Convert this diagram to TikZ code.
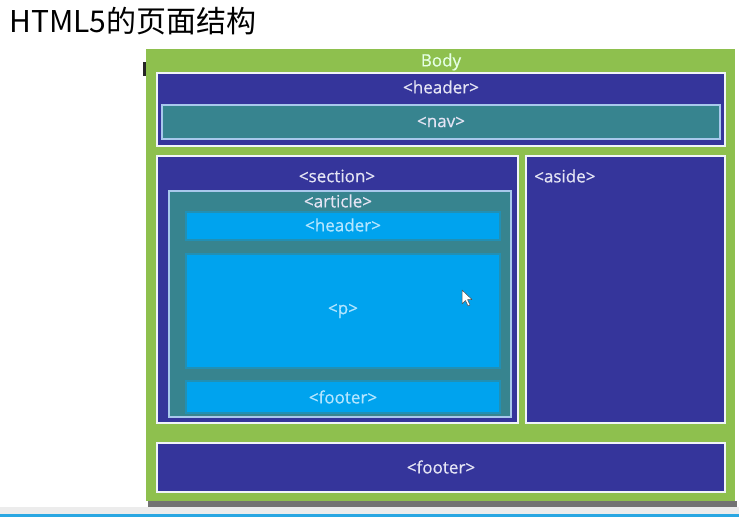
\documentclass[tikz,border=0pt]{standalone}
\usepackage{fontspec}
\setmainfont{Open Sans}
\newfontfamily\lblfont{Open Sans}[FakeBold=0.5]
\newfontfamily\cjk{Noto Sans CJK SC}
\definecolor{bodygreen}{HTML}{8EC04E}
\definecolor{darkblue}{HTML}{35359B}
\definecolor{tealbox}{HTML}{37848F}
\definecolor{skyblue}{HTML}{00A3EE}
\definecolor{paleline}{HTML}{A8C8EC}
\definecolor{whiteline}{HTML}{F0F4F8}
\definecolor{dbtext}{HTML}{E4E4F4}
\definecolor{sktext}{HTML}{B4E6FF}
\definecolor{bottomblue}{HTML}{2AA7E2}
\tikzset{
  x=1pt, y=-1pt,
  boxdark/.style={fill=darkblue, draw=whiteline, line width=2pt},
  boxteal/.style={fill=tealbox, draw=paleline, line width=1.6pt},
  boxsky/.style={fill=skyblue, draw=tealbox!60!skyblue, line width=1.2pt},
  lbl/.style={font=\lblfont\fontsize{17}{19}\selectfont, text=dbtext, inner sep=0pt},
  lblsky/.style={font=\lblfont\fontsize{17}{19}\selectfont, text=sktext, inner sep=0pt},
}
\begin{document}
\begin{tikzpicture}
\useasboundingbox (0,0) rectangle (739,519);
\fill[white] (0,0) rectangle (739,519);
% title
\node[anchor=west, inner sep=0pt, font=\fontsize{30}{33}\selectfont] (title) at (9,21) {\cjk HTML5的页面结构};
% bottom strip
\fill[gray!15] (0,507) rectangle (739,514);
\fill[bottomblue] (0,514) rectangle (739,517);
% shadow
\fill[black!55] (148,501) rectangle (737,507);
% small black mark
\fill[black!85] (143,62) rectangle (146,76);
% body
\fill[bodygreen] (146,49) rectangle (735,501);
\node[font=\lblfont\fontsize{17}{19}\selectfont, text=green!10!white, inner sep=0pt] (body) at (441,62) {Body};
% header + nav
\draw[boxdark] (157,73) rectangle (725,146);
\node[lbl] (hdr) at (441,87) {<header>};
\draw[boxteal] (162,105) rectangle (720,139);
\node[lbl] (nav) at (441,122) {<nav>};
% section
\draw[boxdark] (157,156) rectangle (518,423);
\node[lbl] (sec) at (337,176) {<section>};
% article
\draw[boxteal] (169,191) rectangle (511,417);
\node[lbl] (art) at (338,201) {<article>};
\draw[boxsky] (186,212) rectangle (500,240);
\node[lblsky] (ahdr) at (343,225) {<header>};
\draw[boxsky] (186,254) rectangle (500,368);
\node[lblsky] (p) at (343,311) {<p>};
\draw[boxsky] (186,381) rectangle (500,413);
\node[lblsky] (afoot) at (343,397) {<footer>};
% aside
\draw[boxdark] (526,156) rectangle (725,423);
\node[lbl, anchor=west] (aside) at (534,176) {<aside>};
% footer
\draw[boxdark] (157,443) rectangle (725,492);
\node[lbl] (foot) at (441,467) {<footer>};
% mouse cursor
\draw[fill=white, draw=black!70, line width=0.5pt, line join=round]
  (462,290) -- (462,304) -- (465.5,300.5) -- (468,306) -- (470,305) -- (467.5,299.5) -- (472,299.5) -- cycle;
\end{tikzpicture}
\end{document}
